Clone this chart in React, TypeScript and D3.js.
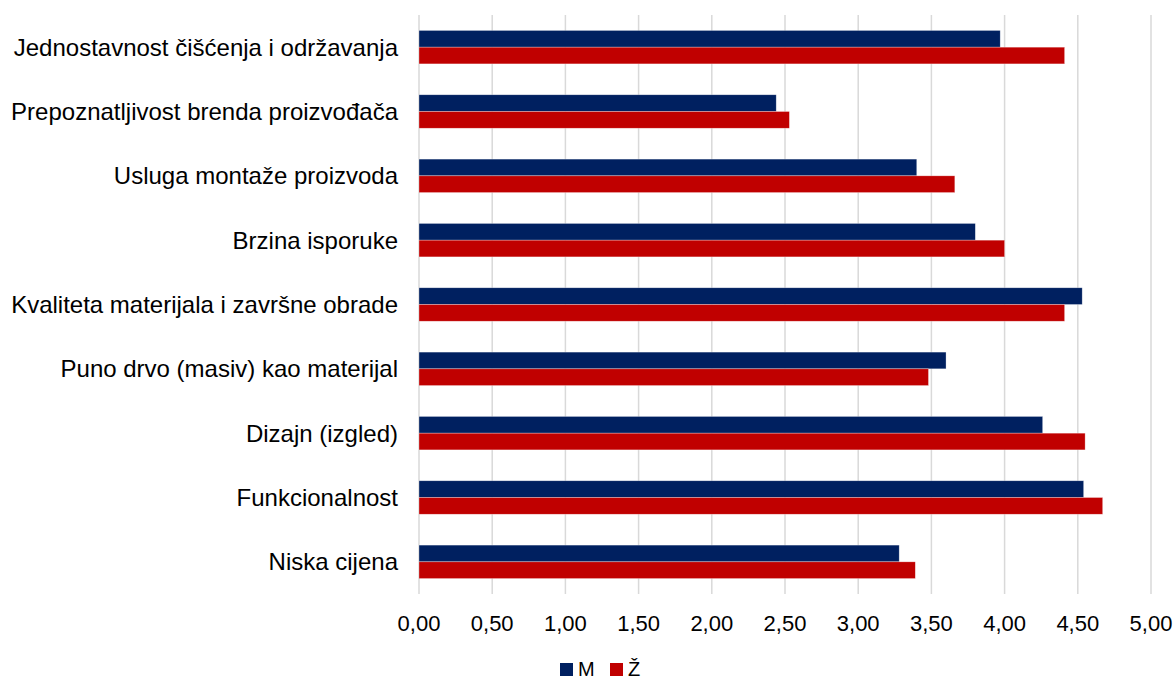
import React from "react";
import * as d3 from "d3";

const categories = [
  "Jednostavnost čišćenja i održavanja",
  "Prepoznatljivost brenda proizvođača",
  "Usluga montaže proizvoda",
  "Brzina isporuke",
  "Kvaliteta materijala i završne obrade",
  "Puno drvo (masiv) kao materijal",
  "Dizajn (izgled)",
  "Funkcionalnost",
  "Niska cijena",
];

const seriesNames = ["M", "Ž"];
const valuesM = [3.97, 2.44, 3.4, 3.8, 4.53, 3.6, 4.26, 4.54, 3.28];
const valuesZ = [4.41, 2.53, 3.66, 4.0, 4.41, 3.48, 4.55, 4.67, 3.39];
const xTicks = [0, 0.5, 1, 1.5, 2, 2.5, 3, 3.5, 4, 4.5, 5];

const colors = ["#002060", "#C00000"];
const W = 1176;
const H = 681;

const App: React.FC = () => {
  const margin = { top: 15, left: 419, right: 25, bottom: 87 };

  // scales
  const x = d3.scaleLinear().domain([0, 5]).range([margin.left, W - margin.right]);
  const y = d3
    .scaleBand<string>()
    .domain(categories)
    .range([margin.top, H - margin.bottom])
    .paddingInner(0.48)
    .paddingOuter(0.24);
  const sub = d3.scaleBand<string>().domain(seriesNames).range([0, y.bandwidth()]);

  const series = [valuesM, valuesZ];
  const fmt = (v: number) => d3.format(".2f")(v).replace(".", ",");
  const font = "Arial, 'Liberation Sans', sans-serif";

  return (
    <svg
      width={W}
      height={H}
      viewBox={`0 0 ${W} ${H}`}
      style={{ position: "absolute", left: 0, top: 0, background: "#fff" }}
    >
      {/* gridlines */}
      <g>
        {xTicks.map(t => (
          <line
            key={t}
            x1={x(t)}
            x2={x(t)}
            y1={margin.top}
            y2={H - margin.bottom}
            stroke="#d9d9d9"
            strokeWidth={1.5}
          />
        ))}
      </g>

      {/* bars */}
      <g>
        {categories.map((c, i) => (
          <g key={c} transform={`translate(0, ${y(c)})`}>
            {series.map((vals, s) => (
              <rect
                key={s}
                x={x(0)}
                y={sub(seriesNames[s])}
                width={x(vals[i]) - x(0)}
                height={sub.bandwidth()}
                fill={colors[s]}
                stroke="#ffffff"
                strokeOpacity={0.5}
                strokeWidth={0.6}
              />
            ))}
          </g>
        ))}
      </g>

      {/* category labels */}
      <g fontFamily={font} fontSize={24} fill="#000">
        {categories.map(c => (
          <text
            key={c}
            x={398}
            y={(y(c) as number) + y.bandwidth() / 2}
            textAnchor="end"
            dominantBaseline="central"
          >
            {c}
          </text>
        ))}
      </g>

      {/* x tick labels */}
      <g fontFamily={font} fontSize={22} fill="#000">
        {xTicks.map(t => (
          <text key={t} x={x(t)} y={631} textAnchor="middle">
            {fmt(t)}
          </text>
        ))}
      </g>

      {/* legend */}
      <g fontFamily={font} fontSize={20} fill="#000">
        {seriesNames.map((n, i) => (
          <g key={n} transform={`translate(${560 + i * 50}, 663)`}>
            <rect width={13} height={13} fill={colors[i]} />
            <text x={18} y={13}>
              {n}
            </text>
          </g>
        ))}
      </g>
    </svg>
  );
};

export default App;
